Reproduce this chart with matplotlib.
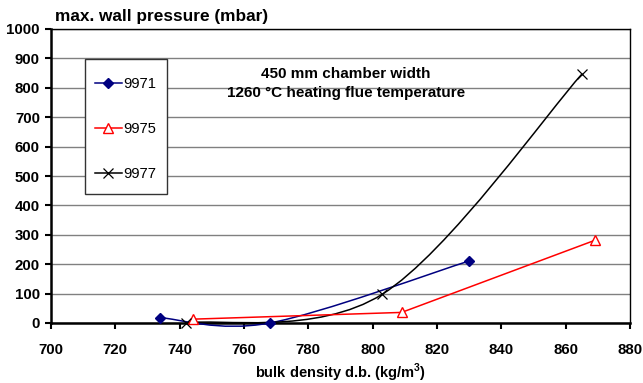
import matplotlib.pyplot as plt
from matplotlib.path import Path
from matplotlib.patches import PathPatch, Rectangle
from matplotlib.lines import Line2D

plt.rcParams['font.family'] = ['Liberation Sans', 'DejaVu Sans']

# series
x_9971 = [734, 768, 830]
y_9971 = [18, 0, 211]
x_9975 = [744, 809, 869]
y_9975 = [13, 36, 281]
x_9977 = [742, 803, 865]
y_9977 = [0, 98, 846]

x_ticks = list(range(700, 881, 20))
y_ticks = list(range(0, 1001, 100))


def smooth_path(xs, ys):
    # Excel style smoothed line (Catmull-Rom as cubic Bezier)
    pts = list(zip(xs, ys))
    n = len(pts)
    verts = [pts[0]]
    codes = [Path.MOVETO]
    for i in range(n - 1):
        p0 = pts[i - 1] if i > 0 else pts[i]
        p1 = pts[i]
        p2 = pts[i + 1]
        p3 = pts[i + 2] if i + 2 < n else pts[i + 1]
        c1 = (p1[0] + (p2[0] - p0[0]) / 6, p1[1] + (p2[1] - p0[1]) / 6)
        c2 = (p2[0] - (p3[0] - p1[0]) / 6, p2[1] - (p3[1] - p1[1]) / 6)
        verts += [c1, c2, p2]
        codes += [Path.CURVE4] * 3
    return Path(verts, codes)


W, H = 643, 383
fig = plt.figure(figsize=(W / 100, H / 100), dpi=100)
ax = fig.add_axes([51 / W, 1 - 323 / H, 579 / W, 294 / H])

# 9971 - smoothed navy line
ax.add_patch(PathPatch(smooth_path(x_9971, y_9971), fill=False,
                       edgecolor='#000080', lw=1.1, zorder=3, clip_on=False))
ax.plot(x_9971, y_9971, ls='none', marker='D', ms=5, color='#000080',
        zorder=4, clip_on=False)

# 9975 - straight red line
ax.plot(x_9975, y_9975, color='red', lw=1.1, marker='^', ms=7,
        mfc='white', mec='red', mew=1.0, zorder=4, clip_on=False)

# 9977 - smoothed black line
ax.add_patch(PathPatch(smooth_path(x_9977, y_9977), fill=False,
                       edgecolor='black', lw=1.1, zorder=3, clip_on=False))
ax.plot(x_9977, y_9977, ls='none', marker='x', ms=7, mew=0.9, color='black',
        zorder=4, clip_on=False)

ax.set_xlim(700, 880)
ax.set_ylim(0, 1000)
ax.set_xticks(x_ticks)
ax.set_yticks(y_ticks)
ax.yaxis.grid(True, color='#808080', lw=1.0)
ax.set_axisbelow(True)
for s in ax.spines.values():
    s.set_linewidth(1.0)
ax.spines['left'].set_linewidth(1.8)
ax.spines['bottom'].set_linewidth(1.8)
ax.tick_params(direction='out', length=4.5, width=1.5, labelsize=10.8)
ax.tick_params(axis='x', pad=10)
ax.tick_params(axis='y', pad=3.5)
for lab in ax.get_xticklabels() + ax.get_yticklabels():
    lab.set_fontweight('bold')

ax.set_xlabel('bulk density d.b. (kg/m$^\\mathregular{3}$)', fontsize=10.5,
              fontweight='bold', labelpad=3)
fig.text(55 / W, 1 - 16 / H, 'max. wall pressure (mbar)', fontsize=12.4,
         fontweight='bold', va='center')
ax.text(0.509, 0.815, '450 mm chamber width\n1260 °C heating flue temperature',
        transform=ax.transAxes, ha='center', va='center', fontsize=11,
        fontweight='bold', linespacing=1.45)

# legend box drawn separately so padding matches
fig.patches.append(Rectangle((85 / W, 1 - 194 / H), 82 / W, 135 / H,
                             transform=fig.transFigure, facecolor='white',
                             edgecolor='#333333', lw=1.0, zorder=5))
handles = [
    Line2D([], [], color='#000080', lw=1.1, marker='D', ms=5),
    Line2D([], [], color='red', lw=1.1, marker='^', ms=7, mfc='white', mec='red'),
    Line2D([], [], color='black', lw=1.1, marker='x', ms=7, mew=0.9),
]
leg = fig.legend(handles, ['9971', '9975', '9977'], loc='upper left',
                 bbox_to_anchor=(95 / W, 1 - 77 / H), fontsize=10.6,
                 frameon=False, labelspacing=2.1, handlelength=1.8,
                 handletextpad=0.1, borderpad=0, borderaxespad=0)
leg.set_zorder(6)

fig.savefig('out.png', dpi=100)
